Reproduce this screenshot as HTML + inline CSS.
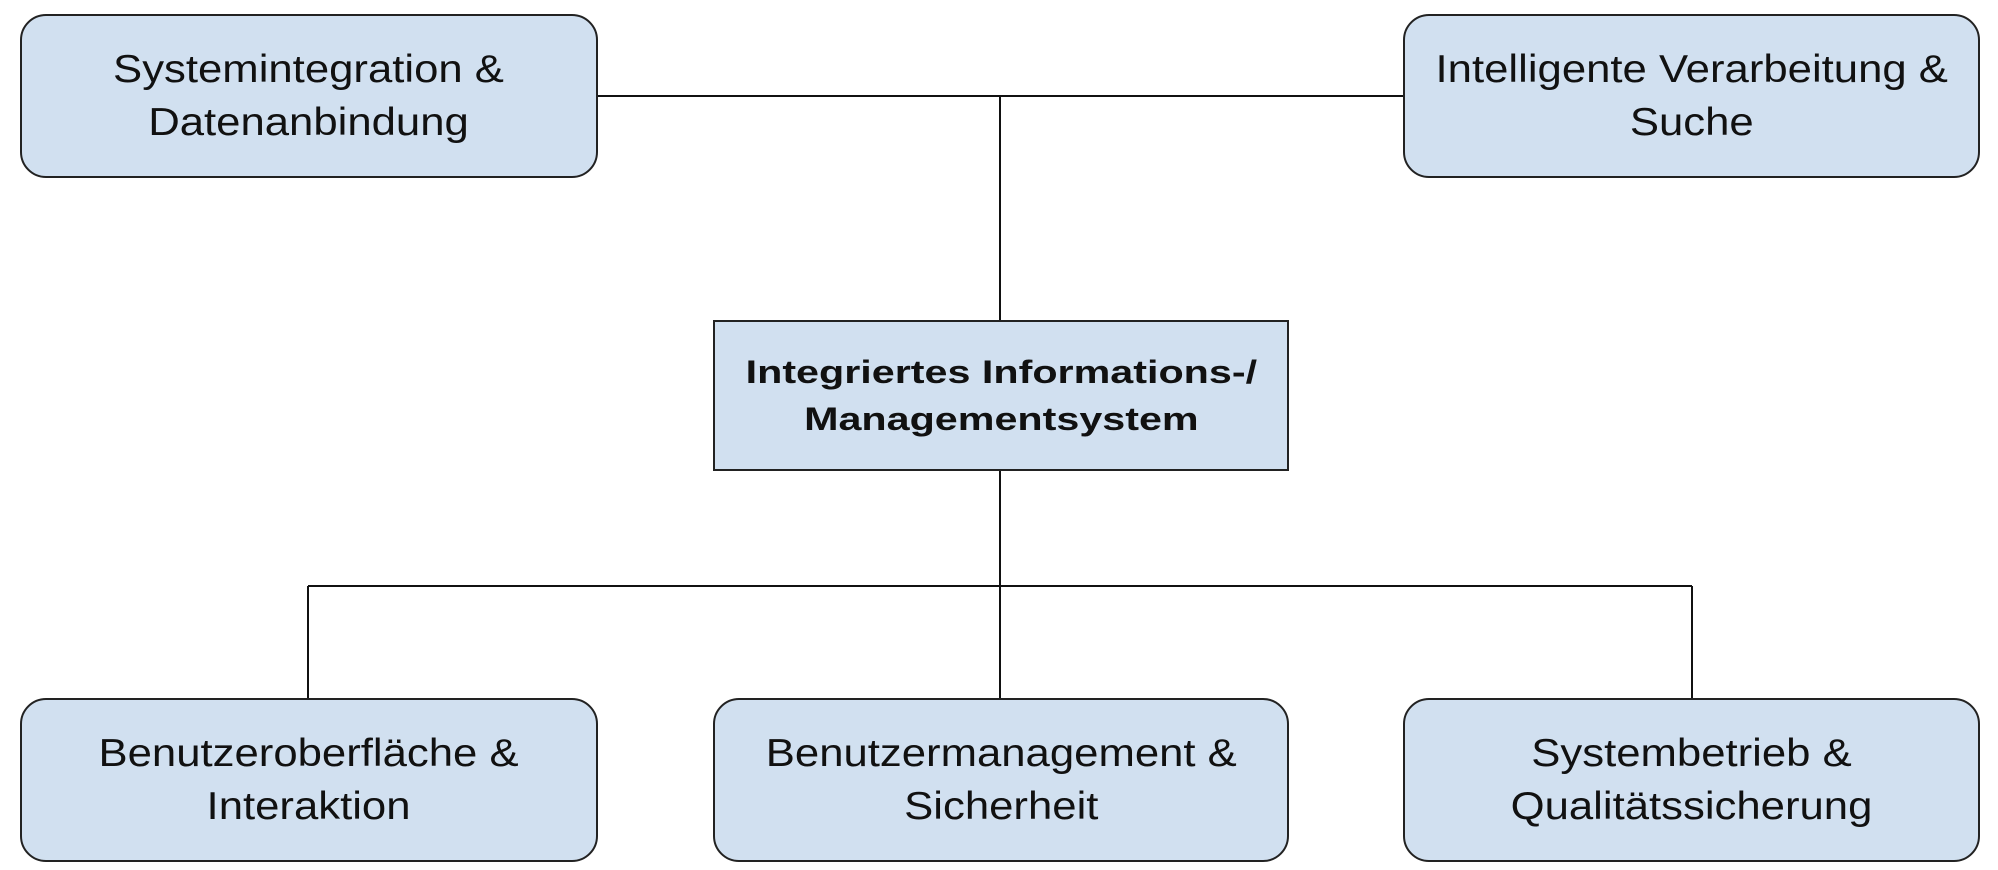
<!DOCTYPE html>
<html><head><meta charset="utf-8"><style>
body{margin:0;width:1998px;height:870px;background:#fff;position:relative;overflow:hidden;font-family:"Liberation Sans",Arial,sans-serif;}
.b{position:absolute;background:#d1e0f0;border:2px solid #222;box-sizing:border-box;display:flex;align-items:center;justify-content:center;text-align:center;font-size:39px;line-height:53px;color:#111;border-radius:26px;}
.b span{display:inline-block;transform:scaleX(1.12);white-space:nowrap;}
.c{border-radius:0;font-weight:bold;font-size:32.5px;line-height:47px;}
.c span{transform:scaleX(1.27);}
svg{position:absolute;left:0;top:0;}
</style></head><body>
<svg width="1998" height="870"><g stroke="#111" stroke-width="2" fill="none">
<line x1="598" y1="96" x2="1403" y2="96"/>
<line x1="1000" y1="96" x2="1000" y2="320"/>
<line x1="1000" y1="470" x2="1000" y2="698"/>
<line x1="308" y1="586" x2="1692" y2="586"/>
<line x1="308" y1="586" x2="308" y2="698"/>
<line x1="1692" y1="586" x2="1692" y2="698"/>
</g></svg>
<div class="b" style="left:20px;top:14px;width:578px;height:164px"><span>Systemintegration &amp;<br>Datenanbindung</span></div>
<div class="b" style="left:1403px;top:14px;width:577px;height:164px"><span>Intelligente Verarbeitung &amp;<br>Suche</span></div>
<div class="b c" style="left:713px;top:320px;width:576px;height:151px"><span>Integriertes Informations-/<br>Managementsystem</span></div>
<div class="b" style="left:20px;top:698px;width:578px;height:164px"><span>Benutzeroberfläche &amp;<br>Interaktion</span></div>
<div class="b" style="left:713px;top:698px;width:576px;height:164px"><span>Benutzermanagement &amp;<br>Sicherheit</span></div>
<div class="b" style="left:1403px;top:698px;width:577px;height:164px"><span>Systembetrieb &amp;<br>Qualitätssicherung</span></div>
</body></html>
